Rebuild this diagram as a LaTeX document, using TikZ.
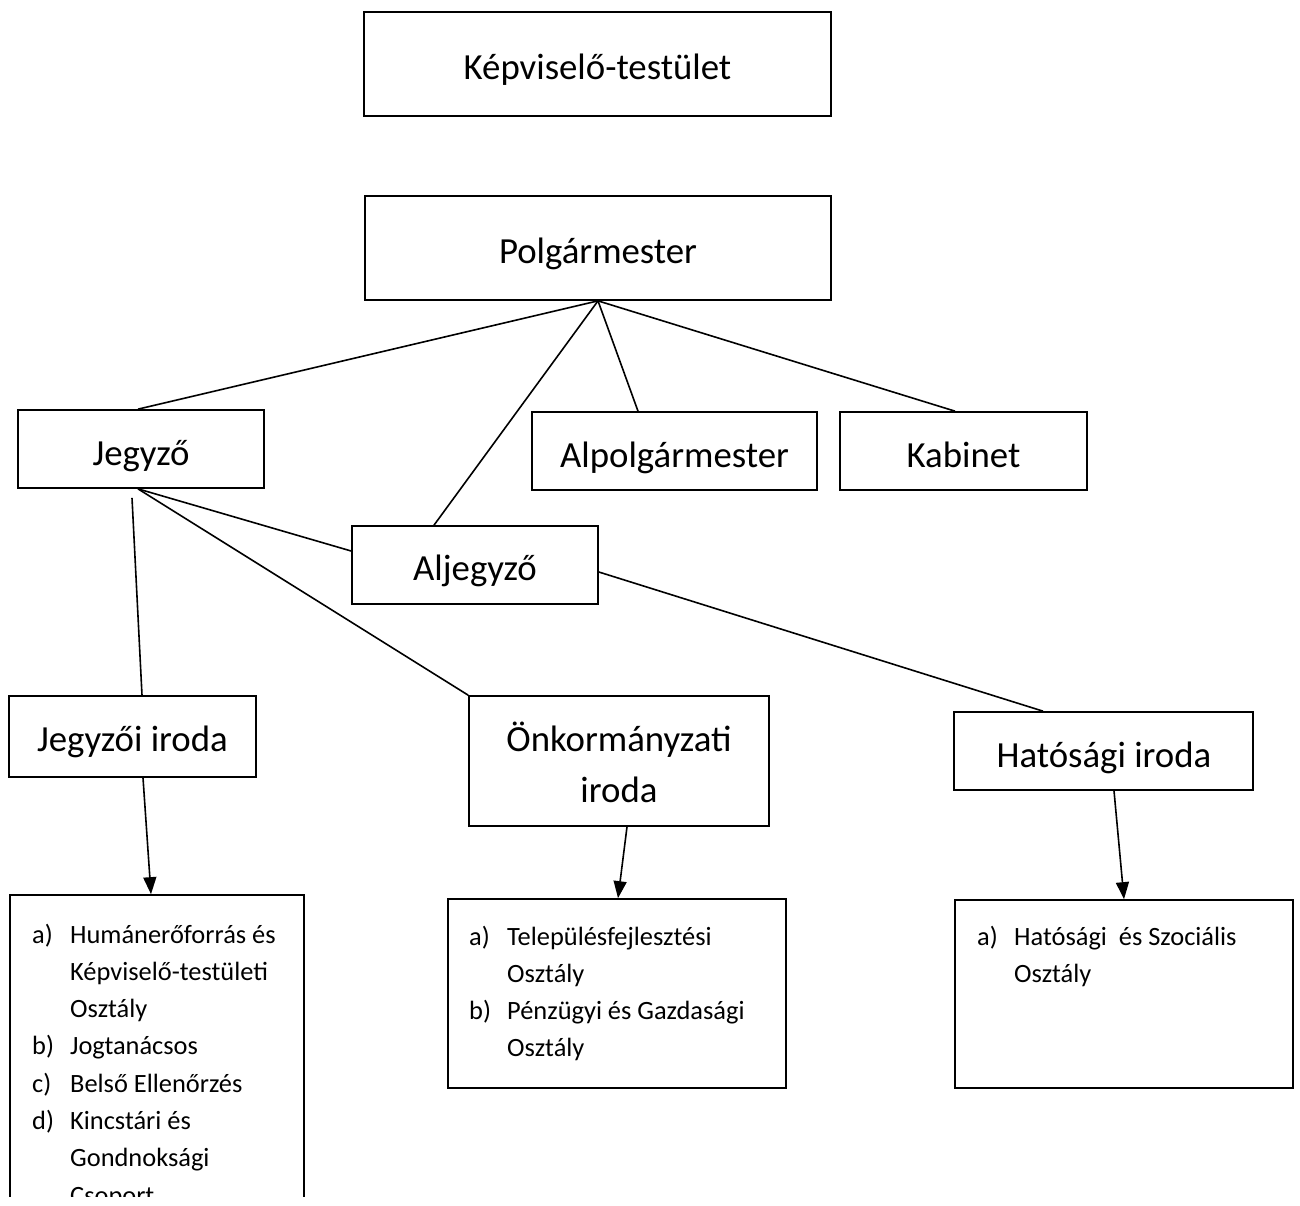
\documentclass[tikz,border=0pt]{standalone}
\usepackage{fontspec}
\setmainfont{Carlito}
\usetikzlibrary{arrows.meta,calc}
\begin{document}
\begin{tikzpicture}[x=1pt,y=-1pt,
  box/.style={draw, line width=1.7pt, inner sep=0pt, rectangle},
  lbl/.style={anchor=base, inner sep=0pt, font=\fontsize{36.8}{44}\selectfont},
  lst/.style={anchor=base west, inner sep=0pt, font=\fontsize{26.4}{37.3}\selectfont},
  conn/.style={line width=1.6pt},
  arr/.style={conn, -{Triangle[length=17pt,width=13pt]}}]
\useasboundingbox (0,0) rectangle (1300,1205);
% boxes
\node[box, minimum width=467pt, minimum height=104pt] (kt) at (597.5,64) {};
\node[box, minimum width=466pt, minimum height=104pt] (pm) at (598,248) {};
\node[box, minimum width=246pt, minimum height=78pt] (jz) at (141,449) {};
\node[box, minimum width=285pt, minimum height=78pt] (ap) at (674.5,451) {};
\node[box, minimum width=247pt, minimum height=78pt] (kb) at (963.5,451) {};
\node[box, minimum width=246pt, minimum height=78pt] (aj) at (475,565) {};
\node[box, minimum width=247pt, minimum height=81pt] (ji) at (132.5,736.5) {};
\node[box, minimum width=300pt, minimum height=130pt] (oi) at (619,761) {};
\node[box, minimum width=299pt, minimum height=78pt] (hi) at (1103.5,751) {};
\node[box, minimum width=338pt, minimum height=189pt] (ol) at (617,993.5) {};
\node[box, minimum width=338pt, minimum height=188pt] (hl) at (1124,994) {};
\begin{scope}
\clip (0,0) rectangle (1300,1196);
\node[box, minimum width=294pt, minimum height=335pt] (jl) at (157,1062.5) {};
\node[lst] (jl-t) at (32,943) {\begin{tabular}[t]{@{}p{38pt}@{}l@{}}
a) & Humánerőforrás és\\
 & Képviselő-testületi\\
 & Osztály\\
b) & Jogtanácsos\\
c) & Belső Ellenőrzés\\
d) & Kincstári és\\
 & Gondnoksági\\
 & Csoport
\end{tabular}};
\end{scope}
% labels
\node[lbl] (kt-t) at (597.5,79) {Képviselő-testület};
\node[lbl] (pm-t) at (598,263) {Polgármester};
\node[lbl] (jz-t) at (141,465) {Jegyző};
\node[lbl] (ap-t) at (674.5,467) {Alpolgármester};
\node[lbl] (kb-t) at (963.5,467) {Kabinet};
\node[lbl] (aj-t) at (475,580) {Aljegyző};
\node[lbl] (ji-t) at (132.5,751) {Jegyzői iroda};
\node[lbl] (oi-t1) at (619,751) {Önkormányzati};
\node[lbl] (oi-t2) at (619,802) {iroda};
\node[lbl] (hi-t) at (1104,767) {Hatósági iroda};
% lists
\node[lst] (ol-t) at (469,945) {\begin{tabular}[t]{@{}p{38pt}@{}l@{}}
a) & Településfejlesztési\\
 & Osztály\\
b) & Pénzügyi és Gazdasági\\
 & Osztály
\end{tabular}};
\node[lst] (hl-t) at (977,945) {\begin{tabular}[t]{@{}p{37pt}@{}l@{}}
a) & Hatósági\ \ és Szociális\\
 & Osztály
\end{tabular}};
% connectors
\draw[conn] (pm.south) -- ([xshift=-3pt]jz.north);
\draw[conn] (pm.south) -- ([xshift=-41pt]aj.north);
\draw[conn] (pm.south) -- ([xshift=-36.5pt]ap.north);
\draw[conn] (pm.south) -- ([xshift=-8.5pt]kb.north);
\draw[conn] ([xshift=-3pt]jz.south) -- ([yshift=14pt]aj.west);
\draw[conn] ([xshift=-3pt]jz.south) -- (oi.north west);
\coordinate (jzdown) at ([xshift=-9pt,yshift=-9pt]jz.south);
\draw[conn] (jzdown) -- ([xshift=9.5pt]ji.north);
\draw[conn] ([yshift=-7pt]aj.east) -- ([xshift=-60.5pt]hi.north);
\draw[arr] ([xshift=10.5pt]ji.south) -- ([xshift=-6pt]jl.north);
\draw[arr] ([xshift=8pt]oi.south) -- ([xshift=1pt]ol.north);
\draw[arr] ([xshift=10.5pt]hi.south) -- (hl.north);
\end{tikzpicture}
\end{document}
